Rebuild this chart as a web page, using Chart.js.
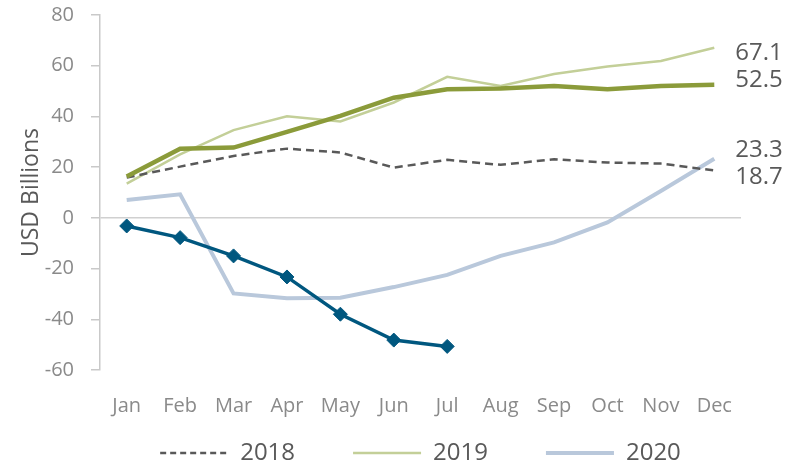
<!DOCTYPE html>
<html>
<head>
    <meta charset="UTF-8">
    <title>USD Billions</title>
    <script src="https://cdn.jsdelivr.net/npm/chart.js@4/dist/chart.umd.min.js"></script>
    <style>
        body { margin: 0; background: #ffffff; }
    </style>
    <script type="text/javascript">
        /* Chart data */
        var months = ['Jan', 'Feb', 'Mar', 'Apr', 'May', 'Jun', 'Jul', 'Aug', 'Sep', 'Oct', 'Nov', 'Dec'];
        var values2018 = [15.9, 20.2, 24.4, 27.3, 25.8, 19.8, 22.9, 20.9, 23.1, 21.8, 21.4, 18.7];
        var values2019 = [13.5, 25.0, 34.6, 40.1, 38.0, 45.5, 55.6, 52.0, 56.7, 59.7, 61.9, 67.1];
        var values2020 = [7.0, 9.3, -29.8, -31.7, -31.5, -27.3, -22.5, -15.0, -9.7, -1.8, 10.6, 23.3];
        var oliveValues = [16.3, 27.3, 27.7, 33.9, 40.2, 47.4, 50.7, 51.0, 52.0, 50.7, 52.0, 52.5];
        var diamondValues = [-3.2, -7.8, -15.0, -23.3, -38.0, -48.2, -50.7, null, null, null, null, null];
        var yMin = -60;
        var yMax = 80;
        var yStep = 20;

        window.onload = function () {
            var grey = '#595959';
            var tickGrey = '#8a8a8a';
            var lineGrey = '#c9c9c9';

            /* shift of the value labels at the right end, by dataset index */
            var endShift = {0: 7, 1: 5, 2: -9, 3: -5};

            var endLabels = {
                id: 'endLabels',
                afterDatasetsDraw: function (chart) {
                    var ctx = chart.ctx;
                    var xs = chart.scales.x;
                    var ys = chart.scales.y;
                    ctx.save();
                    ctx.font = '24px "Open Sans"';
                    ctx.fillStyle = grey;
                    ctx.textAlign = 'left';
                    ctx.textBaseline = 'middle';
                    chart.data.datasets.forEach(function (ds, i) {
                        if (endShift[i] === undefined) return;
                        var last = ds.data.length - 1;
                        var v = ds.data[last];
                        ctx.fillText(v.toFixed(1), xs.getPixelForValue(last) + 21, ys.getPixelForValue(v) + endShift[i]);
                    });
                    ctx.restore();
                }
            };

            var config = {
                type: 'line',
                data: {
                    labels: months,
                    datasets: [{
                        label: '2018',
                        data: values2018,
                        borderColor: '#595959',
                        borderWidth: 2.5,
                        borderDash: [8, 5],
                        pointRadius: 0,
                        order: 2
                    }, {
                        label: '2019',
                        data: values2019,
                        borderColor: '#c3cf98',
                        borderWidth: 2.5,
                        pointRadius: 0,
                        order: 3
                    }, {
                        label: '2020',
                        data: values2020,
                        borderColor: '#b9c8db',
                        borderWidth: 4,
                        pointRadius: 0,
                        order: 4
                    }, {
                        label: '2019 line',
                        data: oliveValues,
                        borderColor: '#8b9b3a',
                        borderWidth: 4.5,
                        pointRadius: 0,
                        order: 1
                    }, {
                        label: '2020 line',
                        data: diamondValues,
                        borderColor: '#00577f',
                        backgroundColor: '#00577f',
                        borderWidth: 3.5,
                        pointStyle: 'rectRot',
                        pointRadius: 7,
                        pointBorderWidth: 1,
                        order: 0
                    }]
                },
                options: {
                    responsive: false,
                    animation: false,
                    devicePixelRatio: 1,
                    layout: {
                        padding: {top: 15, right: 67, bottom: -6, left: 0}
                    },
                    plugins: {
                        tooltip: {enabled: false},
                        legend: {
                            position: 'bottom',
                            fullSize: false,
                            labels: {
                                boxWidth: 68,
                                boxHeight: 0,
                                padding: 10,
                                color: grey,
                                font: {family: 'Open Sans', size: 24},
                                filter: function (item) {
                                    return item.datasetIndex < 3;
                                },
                                sort: function (a, b) {
                                    return a.datasetIndex - b.datasetIndex;
                                },
                                generateLabels: function (chart) {
                                    var items = Chart.defaults.plugins.legend.labels.generateLabels(chart);
                                    items.forEach(function (item) {
                                        // wider gap between the legend entries
                                        if (item.datasetIndex < 2) item.text = item.text + '\u2003\u2003';
                                        if (item.datasetIndex === 0) item.lineDash = [6, 4];
                                    });
                                    return items;
                                }
                            }
                        }
                    },
                    scales: {
                        x: {
                            offset: true,
                            grid: {display: false, drawTicks: false},
                            border: {display: false},
                            ticks: {
                                color: tickGrey,
                                padding: 24,
                                maxRotation: 0,
                                autoSkip: false,
                                font: {family: 'Open Sans', size: 20}
                            },
                            afterFit: function (scale) {
                                scale.height = 61;
                            }
                        },
                        y: {
                            min: yMin,
                            max: yMax,
                            ticks: {
                                stepSize: yStep,
                                color: tickGrey,
                                padding: 17,
                                font: {family: 'Open Sans', size: 20}
                            },
                            grid: {
                                color: function (c) {
                                    return c.tick && c.tick.value === 0 ? '#d0d0d0' : 'rgba(0,0,0,0)';
                                },
                                lineWidth: 1.5,
                                tickColor: lineGrey,
                                tickLength: 9
                            },
                            border: {color: lineGrey, width: 1.5},
                            title: {
                                display: true,
                                text: 'USD Billions',
                                color: grey,
                                padding: {top: 18, bottom: 0},
                                font: {family: 'Open Sans', size: 23}
                            },
                            afterFit: function (scale) {
                                scale.width = 100;
                                scale.paddingTop = 10;
                                scale.paddingBottom = 10;
                            }
                        }
                    }
                },
                plugins: [endLabels]
            };

            var ctx = document.getElementById('line-chart');
            window.myLine = new Chart(ctx, config);
        };
    </script>
</head>
<body>
<canvas id="line-chart" width="808" height="469"></canvas>
</body>
</html>
